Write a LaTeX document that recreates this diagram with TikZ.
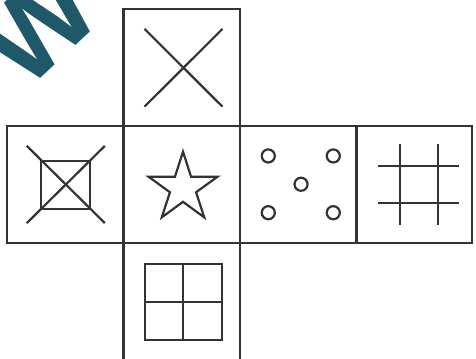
\documentclass[tikz,border=0pt]{standalone}
\usepackage{fontspec}
\setmainfont{Liberation Sans}
\definecolor{wmteal}{RGB}{31,88,104}

\begin{document}
\begin{tikzpicture}[x=116.5pt, y=117pt,
  cell/.style={black!80, line width=2.4pt},
  glyph/.style={black!80, line width=2.2pt}]
\useasboundingbox (-0.06,-0.991) rectangle (4.026,2.077);
\draw[cell] (1,1) rectangle (2,2);
\draw[cell] (0,0) rectangle (3.99,1);
\draw[cell] (1,0) -- (1,1);
\draw[cell] (2,0) -- (2,1);
\draw[cell] (3,0) -- (3,1);
\draw[cell] (1,0) -- (1,-1.05);
\draw[cell] (2,0) -- (2,-1.05);
% top: cross
\draw[glyph] (1.18,1.83) -- (1.85,1.165);
\draw[glyph] (1.18,1.165) -- (1.85,1.83);
% left: crossed square
\draw[glyph] (0.295,0.29) rectangle (0.71,0.70);
\draw[glyph] (0.17,0.17) -- (0.84,0.83);
\draw[glyph] (0.17,0.83) -- (0.84,0.17);
% star
\draw[glyph, miter limit=10, shift={(1.511,0.47)}] (90:0.31) -- (126:0.118) -- (162:0.31) -- (198:0.118) -- (234:0.31) -- (270:0.118) -- (306:0.31) -- (342:0.118) -- (18:0.31) -- (54:0.118) -- cycle;
% dots
\draw[glyph] (2.243,0.744) circle (0.056);
\draw[glyph] (2.801,0.744) circle (0.056);
\draw[glyph] (2.524,0.502) circle (0.056);
\draw[glyph] (2.243,0.259) circle (0.056);
\draw[glyph] (2.801,0.259) circle (0.056);
% hash
\draw[glyph] (3.373,0.846) -- (3.373,0.151);
\draw[glyph] (3.697,0.846) -- (3.697,0.151);
\draw[glyph] (3.187,0.661) -- (3.882,0.661);
\draw[glyph] (3.187,0.339) -- (3.882,0.339);
% bottom: window
\draw[glyph] (1.185,-0.829) rectangle (1.843,-0.179);
\draw[glyph] (1.513,-0.829) -- (1.513,-0.179);
\draw[glyph] (1.185,-0.502) -- (1.843,-0.502);
% watermark
\node[rotate=43, anchor=base, inner sep=0pt, text=wmteal,
  font=\fontsize{116}{116}\selectfont\bfseries] (wmark) at (0.499,1.607) {W};
\end{tikzpicture}
\end{document}
